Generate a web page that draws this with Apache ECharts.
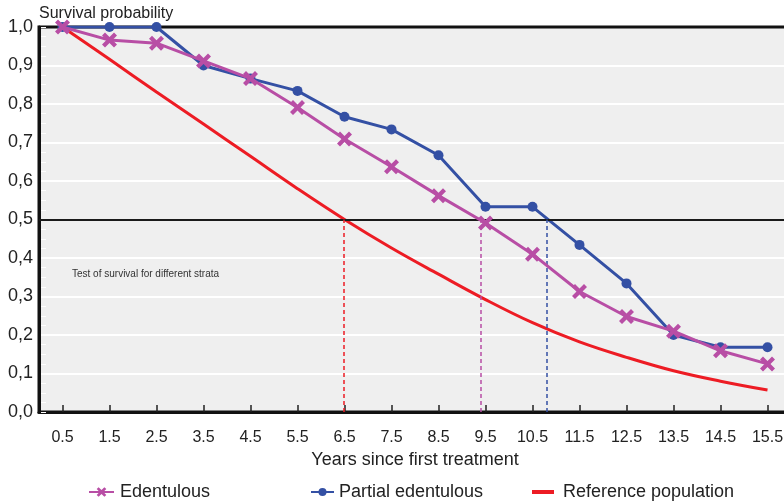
<!DOCTYPE html>
<html>
<head>
<meta charset="utf-8">
<script src="https://cdn.jsdelivr.net/npm/echarts@6/dist/echarts.min.js"></script>
<style>
  html, body { margin: 0; padding: 0; background: #fff; overflow: hidden; }
  #chart { width: 784px; height: 501px; }
</style>
</head>
<body>
<div id="chart"></div>
<script>
// years since first treatment (category labels)
const years = [0.5, 1.5, 2.5, 3.5, 4.5, 5.5, 6.5, 7.5, 8.5, 9.5, 10.5, 11.5, 12.5, 13.5, 14.5, 15.5];
const yearLabels = years.map(y => y.toFixed(1));

const edentulous = [1.0, 0.966, 0.958, 0.912, 0.866, 0.791, 0.709, 0.637, 0.562, 0.491, 0.410, 0.313, 0.248, 0.210, 0.159, 0.125];
const partial = [1.0, 1.0, 1.0, 0.900, 0.866, 0.834, 0.767, 0.734, 0.667, 0.533, 0.533, 0.434, 0.334, 0.200, 0.168, 0.168];
const reference = [1.0, 0.916, 0.831, 0.748, 0.664, 0.580, 0.500, 0.426, 0.358, 0.292, 0.232, 0.182, 0.142, 0.107, 0.080, 0.057];

// median survival times (where each curve crosses 0.5)
const medianRef = 6.48;
const medianEdent = 9.4;
const medianPartial = 10.8;

const MAGENTA = '#b84ea5';
const BLUE = '#3450a4';
const RED = '#ed1c24';
const FONT = '"Liberation Sans", Arial, sans-serif';

const xSymbol = 'path://M0,2L2,0L5,3L8,0L10,2L7,5L10,8L8,10L5,7L2,10L0,8L3,5Z';

function pairs(vals) {
  return years.map((y, i) => [y, vals[i]]);
}

function vline(x, color) {
  return [
    { coord: [x, 0], lineStyle: { color: color, type: [4, 3], width: 1.5 } },
    { coord: [x, 0.5] }
  ];
}

const chart = echarts.init(document.getElementById('chart'));

chart.setOption({
  animation: false,
  backgroundColor: '#fff',
  textStyle: { fontFamily: FONT },
  grid: {
    left: 39,
    top: 27,
    width: 752,
    height: 385,
    outerBoundsMode: 'none',
    containLabel: false,
    show: true,
    backgroundColor: '#efefef',
    borderColor: '#111',
    borderWidth: 3
  },
  graphic: [
    {
      type: 'text', left: 39, top: 6,
      style: { text: 'Survival probability', font: '16px ' + FONT, fill: '#222' }
    },
    {
      type: 'text', left: 72, top: 269,
      style: { text: 'Test of survival for different strata', font: '10px ' + FONT, fill: '#333' }
    }
  ],
  legend: [
    {
      data: ['Edentulous'], left: 83, top: 478, itemWidth: 25, itemHeight: 12,
      textStyle: { fontSize: 18, color: '#222', padding: [0, 0, 0, 1] }
    },
    {
      data: ['Partial edentulous'], left: 305, top: 478, itemWidth: 23, itemHeight: 10,
      textStyle: { fontSize: 18, color: '#222' }
    },
    {
      data: [{ name: 'Reference population', icon: 'rect' }], left: 527, top: 478, itemWidth: 22, itemHeight: 4,
      textStyle: { fontSize: 18, color: '#222', padding: [0, 0, 0, 4] }
    }
  ],
  xAxis: [
    {
      type: 'category',
      data: yearLabels,
      boundaryGap: true,
      name: 'Years since first treatment',
      nameLocation: 'middle',
      nameGap: 38,
      nameTextStyle: { fontSize: 18, color: '#222' },
      axisLine: { show: true, lineStyle: { color: '#111', width: 3 } },
      axisTick: { show: true, inside: true, alignWithLabel: true, length: 7, lineStyle: { color: '#222', width: 1.5 } },
      axisLabel: { margin: 18, fontSize: 16, color: '#222' },
      splitLine: { show: false }
    },
    {
      type: 'value',
      min: 0,
      max: 16,
      show: false
    }
  ],
  yAxis: [
    {
      type: 'value',
      min: 0,
      max: 1,
      interval: 0.1,
      axisLine: { show: true, lineStyle: { color: '#111', width: 3 } },
      axisTick: { show: false },
      axisLabel: {
        fontSize: 18, color: '#222', margin: 6,
        formatter: v => v.toFixed(1).replace('.', ',')
      },
      splitLine: { show: true, showMaxLine: false, showMinLine: false, lineStyle: { color: '#fff', width: 2 } }
    },
    {
      // white minor ticks just inside the left axis line
      type: 'value',
      min: 0,
      max: 1,
      interval: 0.1,
      position: 'left',
      offset: -2,
      axisLine: { show: false },
      axisLabel: { show: false },
      splitLine: { show: false },
      axisTick: { show: true, inside: true, length: 5, lineStyle: { color: '#fff', width: 1 } },
      minorTick: { show: true, splitNumber: 4, length: 5, lineStyle: { color: '#fff', width: 1 } }
    }
  ],
  series: [
    {
      name: 'Reference population',
      type: 'line',
      xAxisIndex: 1,
      data: pairs(reference),
      smooth: 0.4,
      showSymbol: false,
      symbol: 'none',
      lineStyle: { color: RED, width: 3 },
      itemStyle: { color: RED },
      z: 3,
      markLine: {
        silent: true,
        symbol: 'none',
        label: { show: false },
        data: [
          { yAxis: 0.5, lineStyle: { color: '#1a1a1a', type: 'solid', width: 2 } },
          vline(medianRef, RED),
          vline(medianEdent, MAGENTA),
          vline(medianPartial, BLUE)
        ]
      }
    },
    {
      name: 'Partial edentulous',
      type: 'line',
      xAxisIndex: 1,
      data: pairs(partial),
      symbol: 'circle',
      symbolSize: 10,
      lineStyle: { color: BLUE, width: 3 },
      itemStyle: { color: BLUE },
      z: 4
    },
    {
      name: 'Edentulous',
      type: 'line',
      xAxisIndex: 1,
      data: pairs(edentulous),
      symbol: xSymbol,
      symbolSize: 15,
      lineStyle: { color: MAGENTA, width: 3 },
      itemStyle: { color: MAGENTA },
      z: 5
    }
  ]
});
</script>
</body>
</html>
